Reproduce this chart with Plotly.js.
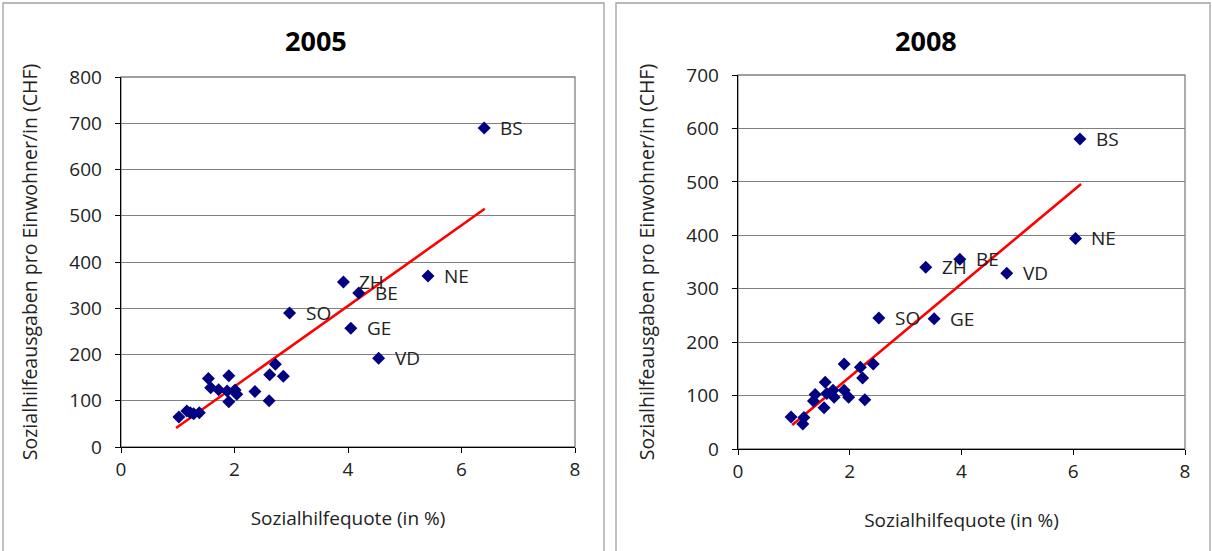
<!DOCTYPE html>
<html><head><meta charset="utf-8">
<script src="https://cdn.plot.ly/plotly-3.0.1.min.js"></script>
<style>html,body{margin:0;padding:0;background:#fff}#chart{width:1212px;height:551px}</style>
</head><body><div id="chart"></div>
<script>
// 2005
const x2005 = [1.02,1.16,1.22,1.28,1.38,1.54,1.58,1.72,1.90,1.87,1.90,2.01,2.04,2.36,2.61,2.62,2.72,2.86, 6.40,3.92,4.19,5.41,2.97,4.05,4.54];
const y2005 = [65,78,74,72,74,148,128,124,154,121,98,123,114,120,100,156,179,153, 690,357,333,370,290,257,192];
const lab2005 = ['','','','','','','','','','','','','','','','','','', 'BS','ZH','BE','NE','SO','GE','VD'];
const trend2005X = [0.97, 6.41];
const trend2005Y = [41, 515];
// 2008
const x2008 = [0.95,1.18,1.16,1.35,1.38,1.56,1.54,1.59,1.70,1.72,1.90,1.90,1.98,2.19,2.23,2.27,2.42, 6.12,6.04,3.36,3.97,4.81,2.52,3.51];
const y2008 = [60,59,47,90,102,125,77,104,110,97,159,110,97,153,133,92,159, 580,394,340,355,329,245,244];
const lab2008 = ['','','','','','','','','','','','','','','','','', 'BS','NE','ZH','BE','VD','SO','GE'];
const trend2008X = [0.97, 6.14];
const trend2008Y = [45, 496];
const titles = ['2005','2008'];
const xTitle = 'Sozialhilfequote (in %)';
const yTitle = 'Sozialhilfeausgaben pro Einwohner/in (CHF)';

const FONT = 'Open Sans, Noto Sans, sans-serif';
const W = 1212, H = 551;
const px = v => v / W, py = v => 1 - v / H;

function pts(x, y, xa, ya) {
  return {x, y, xaxis: xa, yaxis: ya, type: 'scatter', mode: 'markers',
    marker: {symbol: 'diamond', size: 10, color: '#000080'}, hoverinfo: 'x+y', showlegend: false};
}
function trend(x, y, xa, ya) {
  return {x, y, xaxis: xa, yaxis: ya, type: 'scatter', mode: 'lines',
    line: {color: '#ff0000', width: 2.6}, showlegend: false, hoverinfo: 'skip'};
}
const data = [
  trend(trend2005X, trend2005Y, 'x', 'y'),
  pts(x2005, y2005, 'x', 'y'),
  trend(trend2008X, trend2008Y, 'x2', 'y2'),
  pts(x2008, y2008, 'x2', 'y2')
];

const annotations = [];
function labels(xs, ys, ls, xa, ya) {
  ls.forEach((l, i) => { if (l) annotations.push({x: xs[i], y: ys[i], xref: xa, yref: ya, text: l,
    showarrow: false, xanchor: 'left', yanchor: 'middle', xshift: 14, font: {family: FONT, size: 19, color: '#222'}}); });
}
labels(x2005, y2005, lab2005, 'x', 'y');
labels(x2008, y2008, lab2008, 'x2', 'y2');
annotations.push({x: px(316), y: py(40), xref: 'paper', yref: 'paper', xanchor: 'center', yanchor: 'middle', text: '<b>' + titles[0] + '</b>', showarrow: false, font: {family: FONT, size: 27, color: '#000'}});
annotations.push({x: px(926), y: py(40), xref: 'paper', yref: 'paper', xanchor: 'center', yanchor: 'middle', text: '<b>' + titles[1] + '</b>', showarrow: false, font: {family: FONT, size: 27, color: '#000'}});

const xax = (dom, anchor) => ({domain: dom, anchor, range: [0, 8], dtick: 2, tick0: 0, showgrid: false, zeroline: false,
  showline: true, linecolor: '#000', linewidth: 1.3, ticks: 'outside', ticklen: 5, tickcolor: '#000',
  tickfont: {family: FONT, size: 19, color: '#222'},
  title: {text: xTitle, font: {family: FONT, size: 19, color: '#222'}, standoff: 30}});
const yax = (dom, anchor, max) => ({domain: dom, anchor, range: [0, max], dtick: 100, tick0: 0, showgrid: true,
  gridcolor: '#808080', gridwidth: 1, zeroline: false,
  showline: true, linecolor: '#000', linewidth: 1.3, ticks: 'outside', ticklen: 5, tickcolor: '#000',
  ticklabelstandoff: 9,
  tickfont: {family: FONT, size: 19, color: '#222'},
  title: {text: yTitle, font: {family: FONT, size: 19.5, color: '#222'}, standoff: 26}});

const layout = {
  width: W, height: H, margin: {l: 0, r: 0, t: 0, b: 0}, paper_bgcolor: '#fff', plot_bgcolor: '#fff',
  xaxis: xax([px(121), px(575)], 'y'),
  yaxis: yax([py(447), py(77)], 'x', 800),
  xaxis2: xax([px(738), px(1185)], 'y2'),
  yaxis2: yax([py(449), py(75)], 'x2', 700),
  annotations,
  shapes: [
    {type: 'rect', xref: 'paper', yref: 'paper', x0: px(3), x1: px(604), y0: -0.02, y1: py(3), line: {color: '#a0a0a0', width: 1.3}},
    {type: 'rect', xref: 'paper', yref: 'paper', x0: px(616), x1: px(1210), y0: -0.02, y1: py(3), line: {color: '#a0a0a0', width: 1.3}},
    {type: 'rect', xref: 'x domain', yref: 'y domain', x0: 0, x1: 1, y0: 0, y1: 1, layer: 'below', line: {color: '#808080', width: 1.3}},
    {type: 'rect', xref: 'x2 domain', yref: 'y2 domain', x0: 0, x1: 1, y0: 0, y1: 1, layer: 'below', line: {color: '#808080', width: 1.3}}
  ]
};
Plotly.newPlot('chart', data, layout, {displayModeBar: false, staticPlot: true});
</script></body></html>
